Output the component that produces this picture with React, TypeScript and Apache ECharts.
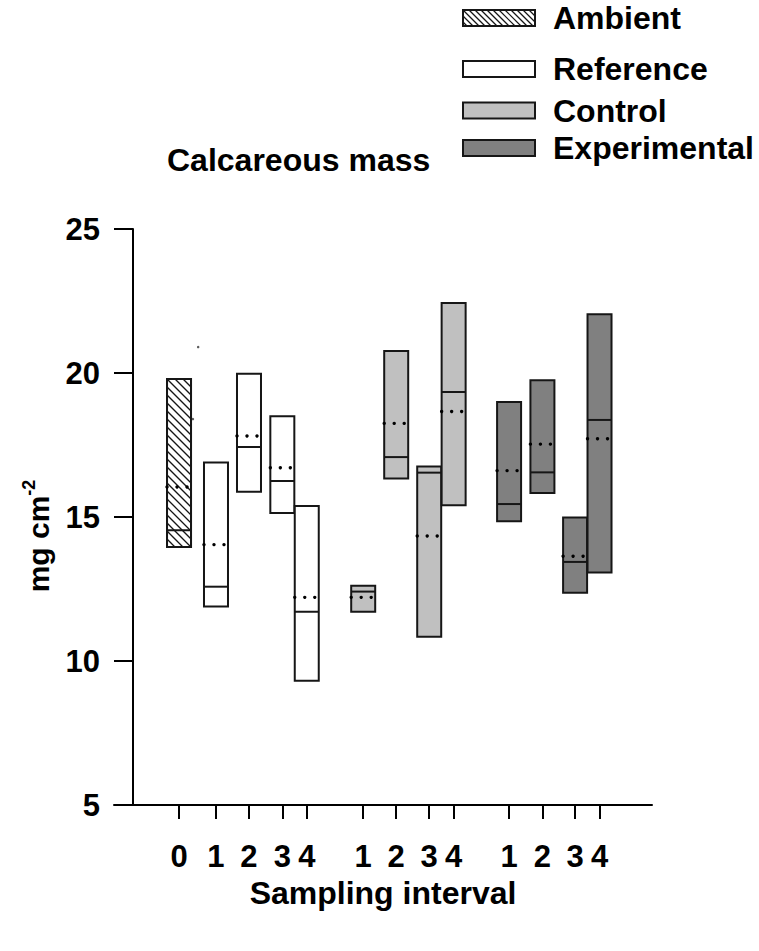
import React, { useEffect, useRef } from 'react';
import * as echarts from 'echarts';

// ---------------- data ----------------
const tickLabels = ['0', '1', '2', '3', '4', '1', '2', '3', '4', '1', '2', '3', '4'];
const treatments = [
  'Ambient',
  'Reference', 'Reference', 'Reference', 'Reference',
  'Control', 'Control', 'Control', 'Control',
  'Experimental', 'Experimental', 'Experimental', 'Experimental',
];
const boxTop = [19.79, 16.89, 19.97, 18.5, 15.38, 12.61, 20.76, 16.75, 22.43, 18.99, 19.75, 14.98, 22.04];
const boxBottom = [13.96, 11.89, 15.88, 15.14, 9.31, 11.71, 16.34, 10.84, 15.41, 14.85, 15.83, 12.37, 13.07];
const medians = [14.54, 12.58, 17.43, 16.25, 11.71, 12.41, 17.08, 16.54, 19.34, 15.45, 16.55, 13.44, 18.37];
const means = [16.04, 14.04, 17.81, 16.71, 12.21, 12.21, 18.25, 14.34, 18.66, 16.61, 17.53, 13.64, 17.72];
const strayX = [0.58, 0.42];
const strayY = [20.9, 18.4];
const legendNames = ['Ambient', 'Reference', 'Control', 'Experimental'];
const yTicks = [5, 10, 15, 20, 25];

// ---------------- layout / style ----------------
const slotPos = [0, 1.12, 2.12, 3.13, 3.87, 5.58, 6.58, 7.58, 8.32, 10, 11.01, 12, 12.74];
const FONT = "'Liberation Sans', Arial, Helvetica, sans-serif";
const fills: Record<string, string> = {
  Ambient: '#ffffff',
  Reference: '#ffffff',
  Control: '#c0c0c0',
  Experimental: '#808080',
};
const STROKE = '#161616';
const BOX_W = 24;

function hatchSegments(x0: number, y0: number, x1: number, y1: number, step: number, phase = 0) {
  const segs: number[][] = [];
  for (let c = y0 - x1 + phase; c <= y1 - x0; c += step) {
    const xs = Math.max(x0, y0 - c);
    const xe = Math.min(x1, y1 - c);
    if (xe > xs) segs.push([xs, xs + c, xe, xe + c]);
  }
  return segs;
}

export default function App() {
  const ref = useRef<HTMLDivElement>(null);
  useEffect(() => {
    const chart = echarts.init(ref.current!, null, { renderer: 'svg' });

    const boxData = slotPos.map((p, i) => [p, boxBottom[i], boxTop[i], medians[i], means[i]]);

    const legendGraphics: any[] = [];
    const legendY = [18, 69, 110.5, 148];
    legendNames.forEach((name, i) => {
      const sx = 463, sw = 72, sh = 16;
      const sy = legendY[i] - sh / 2;
      legendGraphics.push({
        type: 'rect',
        shape: { x: sx, y: sy, width: sw, height: sh },
        style: { fill: fills[name], stroke: STROKE, lineWidth: 2 },
      });
      if (name === 'Ambient') {
        hatchSegments(sx, sy, sx + sw, sy + sh, 6).forEach((s) => {
          legendGraphics.push({
            type: 'line',
            shape: { x1: s[0], y1: s[1], x2: s[2], y2: s[3] },
            style: { stroke: STROKE, lineWidth: 1.2 },
          });
        });
        legendGraphics.push({
          type: 'rect',
          shape: { x: sx, y: sy, width: sw, height: sh },
          style: { fill: 'none', stroke: STROKE, lineWidth: 2 },
        });
      }
      legendGraphics.push({
        type: 'text',
        x: 553,
        y: legendY[i],
        style: {
          text: name,
          fontFamily: FONT,
          fontWeight: 'bold',
          fontSize: 32,
          fill: '#000',
          textAlign: 'left',
          textVerticalAlign: 'middle',
        },
      });
    });

    const option: any = {
      animation: false,
      backgroundColor: '#ffffff',
      title: {
        text: 'Calcareous mass',
        left: 167,
        top: 144,
        padding: 0,
        textStyle: { fontFamily: FONT, fontWeight: 'bold', fontSize: 32, color: '#000' },
      },
      grid: { left: 114, right: 107, top: 229, bottom: 146, containLabel: false },
      xAxis: {
        type: 'value',
        min: -1.97,
        max: 14.33,
        name: 'Sampling interval',
        nameLocation: 'middle',
        nameGap: 64,
        nameTextStyle: { fontFamily: FONT, fontWeight: 'bold', fontSize: 32, color: '#000' },
        axisLine: { show: true, onZero: false, lineStyle: { color: '#000', width: 2 } },
        axisTick: { show: true, customValues: slotPos, length: 14, inside: false, lineStyle: { color: '#000', width: 2 } },
        axisLabel: {
          show: true,
          customValues: slotPos,
          margin: 36,
          fontFamily: FONT,
          fontWeight: 'bold',
          fontSize: 31,
          color: '#000',
          formatter: (v: number) => {
            let best = 0;
            slotPos.forEach((p, i) => {
              if (Math.abs(p - v) < Math.abs(slotPos[best] - v)) best = i;
            });
            return tickLabels[best];
          },
        },
        splitLine: { show: false },
      },
      yAxis: {
        type: 'value',
        min: yTicks[0],
        max: yTicks[yTicks.length - 1],
        interval: 5,
        offset: -19,
        axisLine: { show: true, onZero: false, lineStyle: { color: '#000', width: 2 } },
        axisTick: { show: true, length: 19, inside: false, lineStyle: { color: '#000', width: 2 } },
        axisLabel: {
          margin: 33,
          fontFamily: FONT,
          fontWeight: 'bold',
          fontSize: 31,
          color: '#000',
        },
        splitLine: { show: false },
      },
      graphic: [
        ...legendGraphics,
        {
          type: 'text',
          x: 38,
          y: 536,
          rotation: Math.PI / 2,
          style: {
            text: '{a|mg cm}{b|-2}',
            textAlign: 'center',
            textVerticalAlign: 'middle',
            rich: {
              a: { fontFamily: FONT, fontWeight: 'bold', fontSize: 30, fill: '#000', lineHeight: 36 },
              b: { fontFamily: FONT, fontWeight: 'bold', fontSize: 18, fill: '#000', verticalAlign: 'top' },
            },
          },
        },
      ],
      series: [
        {
          type: 'custom',
          data: boxData,
          encode: { x: 0, y: [1, 2, 3, 4] },
          clip: false,
          renderItem: (params: any, api: any) => {
            const x = api.value(0);
            const topP = api.coord([x, api.value(2)]);
            const botP = api.coord([x, api.value(1)]);
            const medP = api.coord([x, api.value(3)]);
            const meanP = api.coord([x, api.value(4)]);
            const name = treatments[params.dataIndex];
            const x0 = topP[0] - BOX_W / 2;
            const x1 = topP[0] + BOX_W / 2;
            const h = botP[1] - topP[1];
            const children: any[] = [
              {
                type: 'rect',
                shape: { x: x0, y: topP[1], width: BOX_W, height: h },
                style: { fill: fills[name], stroke: STROKE, lineWidth: 2 },
              },
            ];
            if (name === 'Ambient') {
              hatchSegments(x0, topP[1], x1, botP[1], 8).forEach((s) => {
                children.push({
                  type: 'line',
                  shape: { x1: s[0], y1: s[1], x2: s[2], y2: s[3] },
                  style: { stroke: STROKE, lineWidth: 1.3 },
                });
              });
              children.push({
                type: 'rect',
                shape: { x: x0, y: topP[1], width: BOX_W, height: h },
                style: { fill: 'none', stroke: STROKE, lineWidth: 2 },
              });
            }
            children.push({
              type: 'line',
              shape: { x1: x0, y1: medP[1], x2: x1, y2: medP[1] },
              style: { stroke: STROKE, lineWidth: 2 },
            });
            for (let k = 0; k < 3; k++) {
              children.push({
                type: 'circle',
                shape: { cx: x0 + k * 10, cy: meanP[1], r: 1.7 },
                style: { fill: '#000' },
              });
            }
            return { type: 'group', children };
          },
          z: 2,
        },
        {
          type: 'scatter',
          data: strayX.map((v, i) => [v, strayY[i]]),
          symbolSize: 2.5,
          itemStyle: { color: '#333' },
          z: 1,
        },
      ],
    };

    chart.setOption(option);
    return () => chart.dispose();
  }, []);

  return (
    <div
      ref={ref}
      style={{ position: 'fixed', left: 0, top: 0, width: 759, height: 951, background: '#fff' }}
    />
  );
}
